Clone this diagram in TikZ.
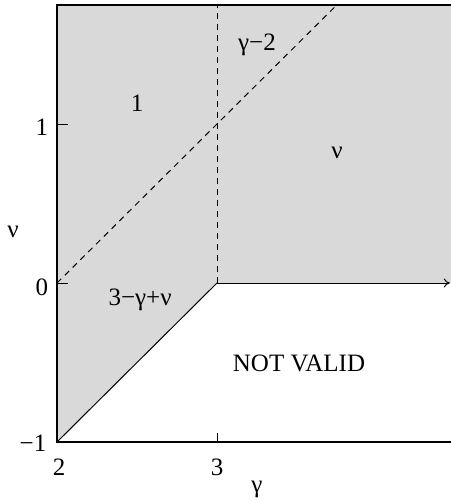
\documentclass[tikz,border=0pt]{standalone}
\usepackage{fontspec}
\setmainfont{Liberation Serif}
\usetikzlibrary{arrows.meta}
\definecolor{regiongray}{RGB}{217,217,217}
\tikzset{
  frameline/.style={line width=2.2pt, line cap=rect},
  thinline/.style={line width=1pt},
  dashline/.style={line width=1pt, dash pattern=on 6pt off 5pt},
  lbl/.style={font=\fontsize{25}{27}\selectfont, inner sep=0pt},
}
\begin{document}
\begin{tikzpicture}[x=160pt,y=159pt]
\useasboundingbox (1.64375,-1.3711) rectangle (4.4625,1.7799);
\coordinate (TL) at (2,1.748);
\coordinate (TR) at (4.4625,1.748);
\coordinate (BL) at (2,-1);
\coordinate (BR) at (4.4625,-1);
\coordinate (O) at (3,0);
\coordinate (R0) at (4.455,0);
\coordinate (D0) at (2,0);
\coordinate (D1) at (3.748,1.748);
\coordinate (V1) at (3,1.748);
% shaded region
\fill[regiongray] (BL) -- (TL) -- (TR) -- (4.4625,0) -- (O) -- cycle;
% dashed lines
\draw[dashline] (D0) -- (D1);
\draw[dashline] (O) -- (V1);
% boundary
\draw[thinline] (BL) -- (O);
\draw[thinline,-{To[length=6pt,width=9pt]}] (O) -- (R0);
% frame
\draw[frameline] (TR) -- (TL) -- (BL) -- (BR);
% ticks
\draw[thinline] (2,1) -- ++(11pt,0);
\draw[thinline] (2,0) -- ++(11pt,0);
\draw[thinline] (3,-1) -- ++(0,9pt);
% tick labels
\node[lbl] (y1) at (1.906,0.981) {1};
\node[lbl] (y0) at (1.906,-0.025) {0};
\node[lbl] (ym) at (1.85,-1.006) {−1};
\node[lbl] (x2) at (2.0125,-1.157) {2};
\node[lbl] (x3) at (3,-1.157) {3};
\node[lbl] (xl) at (3.25,-1.30) {γ};
\node[lbl] (yl) at (1.725,0.321) {ν};
% region labels
\node[lbl] (r1) at (2.5,1.132) {1};
\node[lbl] (rg) at (3.25,1.497) {γ−2};
\node[lbl] (rn) at (3.75,0.818) {ν};
\node[lbl] (rm) at (2.519,-0.107) {3−γ+ν};
\node[lbl] (nv) at (3.5125,-0.503) {NOT VALID};
\end{tikzpicture}
\end{document}
